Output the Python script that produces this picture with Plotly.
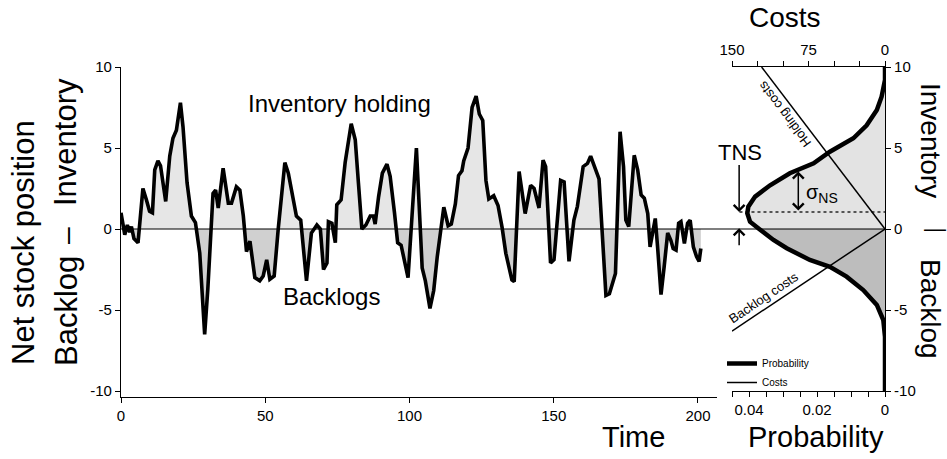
import plotly.graph_objects as go

# ---------------- data ----------------
time_t = [0, 1.3, 2.2, 3.0, 3.6, 4.5, 5.9, 7.6, 8.8, 9.9, 10.9, 11.7, 12.8, 13.7, 15.5, 16.9, 18.0, 19.2,
          20.6, 21.5, 22.9, 24.4, 25.8, 27.3, 29.0, 30.1, 31.9, 32.8, 33.7, 35.4, 37.2, 38.3, 40.0, 41.2,
          42.4, 43.5, 44.7, 46.4, 48.1, 49.3, 50.5, 51.6, 53.1, 54.5, 56.8, 58.0, 60.8, 62.3, 64.3, 66.0,
          67.9, 69.1, 70.2, 71.4, 71.9, 73.1, 74.3, 74.8, 76.3, 77.7, 79.8, 81.2, 82.3, 83.5, 84.9, 86.4,
          87.5, 88.1, 89.3, 90.6, 92.2, 93.3, 94.8, 95.9, 97.1, 99.0, 99.5, 102.4, 104.4, 105.5, 107.1,
          108.4, 109.6, 111.9, 113.4, 114.5, 115.9, 117.0, 118.2, 118.8, 120.3, 121.7, 123.1, 124.2, 125.4,
          126.5, 127.5, 129.2, 130.7, 132.1, 133.4, 135.5, 136.3, 138.0, 140.1, 142.0, 143.2, 144.9, 146.3,
          147.2, 148.9, 150.1, 152.4, 153.6, 155.3, 157.0, 158.2, 160.2, 161.7, 162.8, 164.0, 165.7, 168.1,
          169.3, 171.4, 173.0, 174.2, 175.0, 176.0, 177.9, 179.1, 180.3, 181.4, 182.6, 183.4, 184.3, 185.2,
          186.0, 187.2, 188.3, 189.5, 190.6, 191.4, 192.4, 193.3, 194.1, 195.3, 196.4, 197.3, 198.4, 199.5,
          200.4, 201.0]
net_stock = [1.0, -0.35, 0.25, -0.2, 0.15, -0.6, -0.85, 2.5, 1.8, 1.1, 1.0, 3.65, 4.2, 3.9, 1.7, 4.5, 5.6, 6.1,
             7.8, 6.3, 2.85, 0.8, 0.4, -1.5, -6.5, -3.7, 2.2, 2.4, 1.3, 3.75, 1.6, 1.6, 2.6, 2.4,
             0.8, -1.4, -0.75, -3.0, -3.2, -2.9, -1.9, -3.1, -2.9, 0.0, 4.1, 3.45, 0.8, 0.55, -3.2, -0.25,
             0.25, 0.0, -2.5, -2.1, 0.45, 0.35, -0.85, 1.5, 1.8, 4.1, 6.5, 5.5, 2.85, 0.0, 0.25, 0.8,
             0.8, 0.3, 2.0, 3.45, 4.0, 3.25, 1.0, -0.85, -1.0, -2.8, -3.0, 5.0, -2.4, -3.2, -4.9,
             -3.8, -1.75, 1.35, 0.2, 0.3, 1.55, 3.3, 3.6, 4.2, 5.0, 7.5, 8.2, 7.1, 6.7,
             3.0, 1.85, 2.05, 1.45, 0.1, -1.5, -3.15, -3.25, 3.55, 0.95, 2.7, 2.5, 1.3, 4.25,
             3.85, -2.1, -1.9, 3.0, 2.9, -2.0, 0.55, 1.4, 3.85, 4.05, 4.5, 3.85, 3.1, -4.1,
             -4.0, -2.75, 6.0, 3.85, 0.55, 0.15, 4.55, 3.65, 2.1, 1.9, 0.95, -1.1, -0.05, 0.65,
             -1.1, -4.05, -2.3, -0.25, -0.7, -1.2, -1.3, 0.35, 0.45, -0.9, 0.35, 0.55, -1.1, -1.7,
             -2.0, -1.2]

prob_level = [10, 9.2, 8.17, 7.35, 6.4, 5.6, 4.77, 4.05, 3.44, 2.7, 2.0, 1.38, 0.97, 0.45, 0.0,
              -0.68, -1.19, -1.91, -2.33, -2.94, -3.77, -4.69, -5.62, -6.65, -10]
prob_value = [0, 0, 0.001, 0.0024, 0.0054, 0.0093, 0.0162, 0.021, 0.028, 0.0338, 0.0382, 0.0402, 0.0405,
              0.0397, 0.037, 0.0328, 0.0289, 0.0221, 0.0162, 0.0113, 0.0064, 0.0024, 0.0005, 0, 0]

holding_cost = [0, 121]
holding_level = [0, 10]
backlog_cost = [0, 150]
backlog_level = [0, -6.3]

tns_level = 1.05
sigma_top = 3.55

time_ticks = [0, 50, 100, 150, 200]
level_ticks = [-10, -5, 0, 5, 10]
level_text = ["-10", "-5", "0", "5", "10"]
prob_ticks = [0.045, 0.04, 0.035, 0.03, 0.025, 0.02, 0.015, 0.01, 0.005, 0]
prob_text = ["", "0.04", "", "", "", "0.02", "", "", "", "0"]
cost_ticks = [150, 125, 100, 75, 50, 25, 0]
cost_text = ["150", "", "", "75", "", "", "0"]

# ---------------- helpers ----------------
W, H = 947, 459
FONT = "Liberation Sans, Arial, sans-serif"


def px(x):
    return x / W


def py(y):
    return 1 - y / H


def split_at_zero(t, v):
    T, V = [t[0]], [v[0]]
    for i in range(1, len(t)):
        a, b = v[i - 1], v[i]
        if (a > 0 and b < 0) or (a < 0 and b > 0):
            tc = t[i - 1] + (t[i] - t[i - 1]) * a / (a - b)
            T.append(tc)
            V.append(0.0)
        T.append(t[i])
        V.append(v[i])
    return T, [max(x, 0) for x in V], [min(x, 0) for x in V]


T, VP, VN = split_at_zero(time_t, net_stock)

fig = go.Figure()

# left panel fills and line
fig.add_trace(go.Scatter(x=T, y=VP, mode="lines", line=dict(width=0), fill="tozeroy",
                         fillcolor="#e6e6e6", showlegend=False, hoverinfo="skip"))
fig.add_trace(go.Scatter(x=T, y=VN, mode="lines", line=dict(width=0), fill="tozeroy",
                         fillcolor="#d0d0d0", showlegend=False, hoverinfo="skip"))
fig.add_trace(go.Scatter(x=time_t, y=net_stock, mode="lines", line=dict(color="black", width=3.6),
                         showlegend=False))

# right panel fills
up_x = [p for p, l in zip(prob_value, prob_level) if l >= 0]
up_y = [l for l in prob_level if l >= 0]
dn_x = [p for p, l in zip(prob_value, prob_level) if l <= 0]
dn_y = [l for l in prob_level if l <= 0]
fig.add_trace(go.Scatter(x=up_x, y=up_y, xaxis="x2", yaxis="y2", mode="lines", line=dict(width=0),
                         fill="tozerox", fillcolor="#e3e3e3", showlegend=False, hoverinfo="skip"))
fig.add_trace(go.Scatter(x=dn_x, y=dn_y, xaxis="x2", yaxis="y2", mode="lines", line=dict(width=0),
                         fill="tozerox", fillcolor="#bdbdbd", showlegend=False, hoverinfo="skip"))

# TNS dotted line
fig.add_trace(go.Scatter(x=[0.0428, 0], y=[tns_level, tns_level], xaxis="x2", yaxis="y2", mode="lines",
                         line=dict(color="#555555", width=2, dash="dot"), showlegend=False))

# cost lines
fig.add_trace(go.Scatter(x=holding_cost, y=holding_level, xaxis="x3", yaxis="y2", mode="lines",
                         line=dict(color="black", width=1.5), name="Costs", showlegend=True,
                         legendrank=2))
fig.add_trace(go.Scatter(x=backlog_cost, y=backlog_level, xaxis="x3", yaxis="y2", mode="lines",
                         line=dict(color="black", width=1.5), showlegend=False))

# probability curve
fig.add_trace(go.Scatter(x=prob_value, y=prob_level, xaxis="x2", yaxis="y2", mode="lines",
                         line=dict(color="black", width=4.5), name="Probability", showlegend=True,
                         legendrank=1))

axis_common = dict(showline=True, linecolor="black", linewidth=1.2, ticks="outside", ticklen=5,
                   tickcolor="black", tickwidth=1.2, showgrid=False, zeroline=False,
                   tickfont=dict(family=FONT, size=15, color="black"))

fig.update_layout(
    width=W, height=H,
    margin=dict(l=0, r=0, t=0, b=0, autoexpand=False),
    paper_bgcolor="white", plot_bgcolor="rgba(0,0,0,0)",
    font=dict(family=FONT, color="black"),
    xaxis=dict(domain=[px(121), px(717)], range=[0, 206.6], anchor="y", tickvals=time_ticks, **axis_common),
    yaxis=dict(domain=[py(397), py(67)], range=[-10.37, 10], anchor="x", tickvals=level_ticks,
               ticktext=level_text, **axis_common),
    xaxis2=dict(domain=[px(732), px(885)], range=[0.045, 0], anchor="y2", tickvals=prob_ticks,
                ticktext=prob_text, **axis_common),
    xaxis3=dict(domain=[px(732), px(885)], range=[150, 0], anchor="y2", overlaying="x2", side="top",
                tickvals=cost_ticks, ticktext=cost_text, **axis_common),
    yaxis2=dict(domain=[py(391), py(67)], range=[-10, 10], anchor="x2", side="right", tickvals=level_ticks,
                ticktext=level_text, **axis_common),
    legend=dict(x=px(722), y=py(349), xanchor="left", yanchor="top", bgcolor="rgba(0,0,0,0)",
                font=dict(family=FONT, size=10), itemwidth=30, tracegroupgap=0),
    showlegend=True,
)

# zero line spanning both panels
fig.add_shape(type="line", xref="paper", yref="y", x0=px(121), x1=px(885), y0=0, y1=0,
              line=dict(color="black", width=1.2), layer="above")


def ann(text, x, y, size, angle=0, **kw):
    fig.add_annotation(text=text, x=px(x), y=py(y), xref="paper", yref="paper", showarrow=False,
                       textangle=angle, font=dict(family=FONT, size=size, color="black"),
                       xanchor="center", yanchor="middle", **kw)


ann("Net stock position", 23, 243, 31, -90)
ann("Inventory", 66, 142, 31, -90)
ann("–", 66, 236, 30, -90)
ann("Backlog", 66, 311, 31, -90)
ann("Time", 633, 437, 29)
ann("Costs", 785, 18, 28)
ann("Probability", 816, 437, 29)
ann("Inventory", 931, 140, 28, 90)
ann("—", 935, 229, 22)
ann("Backlog", 931, 309, 28, 90)
ann("Inventory holding", 339, 104, 24)
ann("Backlogs", 331, 296, 24)
ann("TNS", 740, 153, 22)

# rotated cost labels (data coords)
fig.add_annotation(text="Holding costs", x=98, y=7.1, xref="x3", yref="y2", showarrow=False,
                   textangle=-127, font=dict(family=FONT, size=13, color="black"))
fig.add_annotation(text="Backlog costs", x=119, y=-4.2, xref="x3", yref="y2", showarrow=False,
                   textangle=-34, font=dict(family=FONT, size=13, color="black"))
fig.add_annotation(text="σ<sub>NS</sub>", x=0.0185, y=2.2, xref="x2", yref="y2", showarrow=False,
                   font=dict(family=FONT, size=20, color="black"))

# arrows
fig.add_annotation(x=0.0429, y=tns_level, ax=0.0429, ay=4.05, xref="x2", yref="y2", axref="x2", ayref="y2",
                   text="", showarrow=True, arrowhead=4, arrowsize=1.4, arrowwidth=1.5, arrowcolor="black")
fig.add_annotation(x=0.0429, y=0.05, ax=0.0429, ay=-1.1, xref="x2", yref="y2", axref="x2", ayref="y2",
                   text="", showarrow=True, arrowhead=4, arrowsize=1.4, arrowwidth=1.5, arrowcolor="black")
fig.add_annotation(x=0.0255, y=sigma_top, ax=0.0255, ay=tns_level, xref="x2", yref="y2", axref="x2",
                   ayref="y2", text="", showarrow=True, arrowhead=4, startarrowhead=4, arrowside="end+start",
                   arrowsize=1.4, startarrowsize=1.4, arrowwidth=1.5, arrowcolor="black")

fig.write_html("out.html", config={"displayModeBar": False},
               post_script="document.body.style.margin='0';document.body.style.overflow='hidden';")
